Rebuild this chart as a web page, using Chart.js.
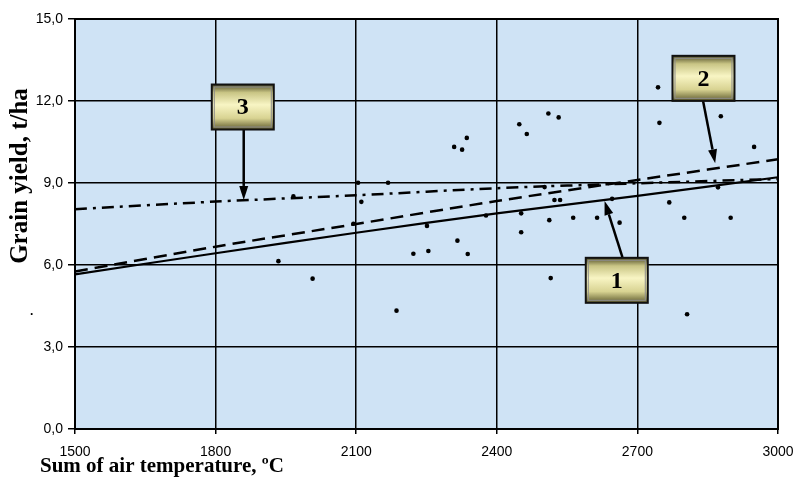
<!DOCTYPE html>
<html>
<head>
<meta charset="utf-8">
<script src="https://cdn.jsdelivr.net/npm/chart.js@4/dist/chart.umd.min.js"></script>
<style>
  html, body { margin: 0; padding: 0; background: #fff; }
  #wrap { width: 794px; height: 483px; position: relative; }
</style>
</head>
<body>
<div id="wrap"><canvas id="grafico" width="794" height="483"></canvas></div>
<script>
// observed points (sum of temperatures, yield t/ha)
const pontosX = [1934, 2007, 2186, 2104, 2168, 1966, 2111, 2094, 2251, 2377, 2222, 2254, 2316, 2338,
                 2309, 2326, 2336, 2448, 2464, 2510, 2532, 2744, 2747, 2878, 2949, 2502, 2523, 2535,
                 2452, 2452, 2512, 2563, 2614, 2662, 2646, 2768, 2800, 2899, 2872, 2515, 2806];
const pontosY = [6.14, 5.50, 4.33, 9.01, 9.01, 8.51, 8.31, 7.51, 7.43, 7.81, 6.41, 6.51, 6.89, 6.40,
                 10.32, 10.22, 10.65, 11.15, 10.79, 11.54, 11.40, 12.50, 11.20, 11.44, 10.32, 8.85, 8.38, 8.38,
                 7.89, 7.20, 7.64, 7.73, 7.73, 7.55, 8.42, 8.29, 7.73, 7.73, 8.84, 5.52, 4.20];

// trend lines read at the x ticks
const linhaX  = [1500, 1800, 2100, 2400, 2700, 3000];
const linha1Y = [5.66, 6.43, 7.18, 7.89, 8.53, 9.21];
const linha2Y = [5.76, 6.67, 7.50, 8.34, 9.11, 9.87];
const linha3Y = [8.04, 8.32, 8.55, 8.81, 8.99, 9.15];

// callouts: label, box centre, arrow start and tip (data units)
const rotulos   = ['1', '2', '3'];
const caixaX    = [2656, 2841, 1858];
const caixaY    = [5.44, 12.83, 11.78];
const setaIniX  = [2668, 2840, 1860];
const setaIniY  = [6.29, 12.01, 10.99];
const setaFimX  = [2630, 2866, 1860];
const setaFimY  = [8.34, 9.72, 8.38];

const ticksX = [1500, 1800, 2100, 2400, 2700, 3000];
const ticksY = [0, 3, 6, 9, 12, 15];

const tituloX = 'Sum of air temperature, ºC';
const tituloY = 'Grain yield, t/ha';

const fmt = v => v.toFixed(1).replace('.', ',');

const fundoPlugin = {
  id: 'fundo',
  beforeDraw(chart) {
    const { ctx, chartArea: a } = chart;
    ctx.save();
    ctx.fillStyle = '#cfe3f5';
    ctx.fillRect(a.left, a.top, a.right - a.left, a.bottom - a.top);
    ctx.restore();
  },
  afterDraw(chart) {
    const { ctx, chartArea: a } = chart;
    ctx.save();
    ctx.strokeStyle = '#000';
    ctx.lineWidth = 2;
    ctx.strokeRect(a.left, a.top, a.right - a.left, a.bottom - a.top);
    ctx.fillStyle = '#000';
    ctx.font = 'bold 21px "Liberation Serif", "Times New Roman", serif';
    ctx.textBaseline = 'middle';
    ctx.textAlign = 'left';
    ctx.fillText(tituloX, 40, 467);
    ctx.font = 'bold 12px "Liberation Sans", Arial, sans-serif';
    ctx.fillText('.', 30, 312);
    ctx.translate(21, 176);
    ctx.rotate(-Math.PI / 2);
    ctx.textAlign = 'center';
    ctx.font = 'bold 25px "Liberation Serif", "Times New Roman", serif';
    ctx.fillText(tituloY, 0, 0);
    ctx.restore();
  }
};

const caixasPlugin = {
  id: 'caixas',
  afterDatasetsDraw(chart) {
    const { ctx, scales: { x, y } } = chart;
    ctx.save();
    rotulos.forEach((r, i) => {
      // arrow
      const x0 = x.getPixelForValue(setaIniX[i]), y0 = y.getPixelForValue(setaIniY[i]);
      const x1 = x.getPixelForValue(setaFimX[i]), y1 = y.getPixelForValue(setaFimY[i]);
      const ang = Math.atan2(y1 - y0, x1 - x0);
      const len = 14, half = 4.5;
      const bx = x1 - len * Math.cos(ang), by = y1 - len * Math.sin(ang);
      ctx.strokeStyle = '#000';
      ctx.lineWidth = 2.5;
      ctx.beginPath(); ctx.moveTo(x0, y0); ctx.lineTo(bx, by); ctx.stroke();
      ctx.fillStyle = '#000';
      ctx.beginPath();
      ctx.moveTo(x1, y1);
      ctx.lineTo(bx + half * Math.sin(ang), by - half * Math.cos(ang));
      ctx.lineTo(bx - half * Math.sin(ang), by + half * Math.cos(ang));
      ctx.closePath(); ctx.fill();

      // box
      const cx = x.getPixelForValue(caixaX[i]), cy = y.getPixelForValue(caixaY[i]);
      const w = 62, h = 45, l = cx - w / 2, t = cy - h / 2;
      const g = ctx.createLinearGradient(0, t, 0, t + h);
      g.addColorStop(0, '#4f4c26');
      g.addColorStop(0.18, '#c9c585');
      g.addColorStop(0.45, '#f8f5c4');
      g.addColorStop(0.75, '#d8d392');
      g.addColorStop(1, '#5f5b2e');
      ctx.fillStyle = g;
      ctx.fillRect(l, t, w, h);
      ctx.lineWidth = 2;
      ctx.strokeStyle = '#111';
      ctx.strokeRect(l, t, w, h);
      ctx.lineWidth = 1;
      ctx.strokeStyle = '#8c8c8c';
      ctx.strokeRect(l + 2.5, t + 2.5, w - 5, h - 5);
      ctx.fillStyle = '#000';
      ctx.font = 'bold 24px "Liberation Serif", "Times New Roman", serif';
      ctx.textAlign = 'center';
      ctx.textBaseline = 'middle';
      ctx.fillText(r, cx, cy + 1);
    });
    ctx.restore();
  }
};

const pontos = pontosX.map((v, i) => ({ x: v, y: pontosY[i] }));
const serie = arr => linhaX.map((v, i) => ({ x: v, y: arr[i] }));

new Chart(document.getElementById('grafico').getContext('2d'), {
  type: 'scatter',
  data: {
    datasets: [
      { label: 'obs', data: pontos, pointRadius: 2.3, pointBackgroundColor: '#000', pointBorderWidth: 0, showLine: false },
      { label: '1', data: serie(linha1Y), showLine: true, borderColor: '#000', borderWidth: 2.2, pointRadius: 0, tension: 0.3 },
      { label: '2', data: serie(linha2Y), showLine: true, borderColor: '#000', borderWidth: 2.5, pointRadius: 0, borderDash: [13, 7], tension: 0.3 },
      { label: '3', data: serie(linha3Y), showLine: true, borderColor: '#000', borderWidth: 2.5, pointRadius: 0, borderDash: [12, 6, 3, 6], tension: 0.3 }
    ]
  },
  options: {
    responsive: false, animation: false,
    layout: { padding: { top: 19, right: 16, left: 0, bottom: 0 } },
    plugins: { legend: { display: false }, tooltip: { enabled: false } },
    scales: {
      x: {
        type: 'linear', min: 1500, max: 3000,
        afterBuildTicks: s => { s.ticks = ticksX.map(v => ({ value: v })); },
        afterFit: s => { s.height = 54; s.paddingLeft = 0; s.paddingRight = 0; },
        grid: { color: '#000', lineWidth: 1.5, tickLength: 5, tickColor: '#000' },
        border: { display: false },
        ticks: { color: '#000', padding: 10, maxRotation: 0, font: { family: '"Liberation Sans", Arial, sans-serif', size: 14 }, callback: v => String(v) }
      },
      y: {
        type: 'linear', min: 0, max: 15,
        afterBuildTicks: s => { s.ticks = ticksY.map(v => ({ value: v })); },
        afterFit: s => { s.width = 75; s.paddingTop = 0; s.paddingBottom = 0; },
        grid: { color: '#000', lineWidth: 1.5, tickLength: 7, tickColor: '#000' },
        border: { display: false },
        ticks: { color: '#000', padding: 5, font: { family: '"Liberation Sans", Arial, sans-serif', size: 14 }, callback: v => fmt(v) }
      }
    }
  },
  plugins: [fundoPlugin, caixasPlugin]
});
</script>
</body>
</html>
